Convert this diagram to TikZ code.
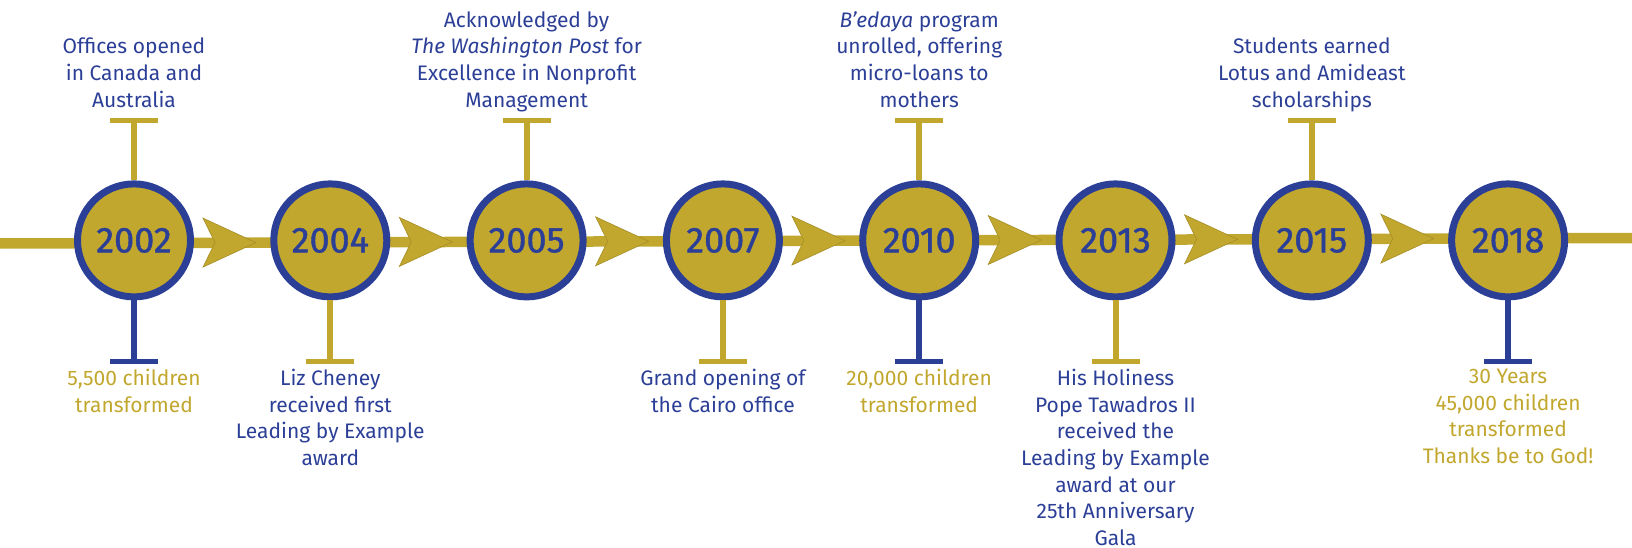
\documentclass[tikz,border=0pt]{standalone}
\usepackage{fontspec}
\setmainfont{Fira Sans}
\newfontfamily\yearfont[FakeBold=1.2]{Fira Sans}
\usetikzlibrary{positioning, calc, arrows.meta}

\definecolor{tlgold}{RGB}{193,167,46}
\definecolor{tlblue}{RGB}{44,63,151}

\tikzset{
  year/.style={circle, draw=tlblue, fill=tlgold, line width=7pt, minimum size=113pt, inner sep=0pt, text=tlblue, font=\yearfont\fontsize{36}{36}\selectfont},
  ev/.style={align=center, inner sep=0pt, font=\fontsize{21}{26.7}\selectfont, execute at begin node=\strut, execute at end node=\strut},
  evb/.style={ev, text=tlblue},
  evg/.style={ev, text=tlgold},
  gstem/.style={draw=tlgold, line width=6pt, -{Bar[width=48pt, line width=5pt]}},
  bstem/.style={draw=tlblue, line width=6pt, -{Bar[width=48pt, line width=5pt]}},
  chev/.style={fill=tlgold, draw=tlgold!85!black, line width=0.6pt},
  tline/.style={draw=tlgold, line width=10.5pt}
}

\begin{document}
\begin{tikzpicture}[x=1pt, y=-1pt]
\useasboundingbox (0,0) rectangle (1632,548);
\coordinate (tl) at (0,243.5);
\coordinate (tr) at (1632,238);
\draw[tline] (tl) -- (tr);

\node (y2002) at (134,240.4) [year] {2002};
\node (y2004) at (330.3,240.4) [year] {2004};
\node (y2005) at (526.6,240.4) [year] {2005};
\node (y2007) at (722.9,240.4) [year] {2007};
\node (y2010) at (919.2,240.4) [year] {2010};
\node (y2013) at (1115.5,240.4) [year] {2013};
\node (y2015) at (1311.8,240.4) [year] {2015};
\node (y2018) at (1508.1,240.4) [year] {2018};

\fill[chev] ($(y2002)+(69,-22.3)$) -- ++(53,24.5) -- ++(-53,24.5) -- ++(12,-24.5) -- cycle;
\fill[chev] ($(y2004)+(69,-23.0)$) -- ++(53,24.5) -- ++(-53,24.5) -- ++(12,-24.5) -- cycle;
\fill[chev] ($(y2005)+(69,-23.6)$) -- ++(53,24.5) -- ++(-53,24.5) -- ++(12,-24.5) -- cycle;
\fill[chev] ($(y2007)+(69,-24.3)$) -- ++(53,24.5) -- ++(-53,24.5) -- ++(12,-24.5) -- cycle;
\fill[chev] ($(y2010)+(69,-24.9)$) -- ++(53,24.5) -- ++(-53,24.5) -- ++(12,-24.5) -- cycle;
\fill[chev] ($(y2013)+(69,-25.6)$) -- ++(53,24.5) -- ++(-53,24.5) -- ++(12,-24.5) -- cycle;
\fill[chev] ($(y2015)+(69,-26.3)$) -- ++(53,24.5) -- ++(-53,24.5) -- ++(12,-24.5) -- cycle;

\node (e2002a) [evb, above=65pt of y2002] {Offices opened\\in Canada and\\Australia};
\node (e2005) [evb, above=65pt of y2005] {Acknowledged by\\\textit{The Washington Post} for\\Excellence in Nonprofit\\Management};
\node (e2010a) [evb, above=65pt of y2010] {\textit{B’edaya} program\\unrolled, offering\\micro-loans to\\mothers};
\node (e2015) [evb, above=65pt of y2015] {Students earned\\Lotus and Amideast\\scholarships};

\node (e2002b) [evg, below=68.4pt of y2002] {5,500 children\\transformed};
\node (e2004) [evb, below=68.4pt of y2004] {Liz Cheney\\received first\\Leading by Example\\award};
\node (e2007) [evb, below=68.4pt of y2007] {Grand opening of\\the Cairo office};
\node (e2010b) [evg, below=68.4pt of y2010] {20,000 children\\transformed};
\node (e2013) [evb, below=68.4pt of y2013] {His Holiness\\Pope Tawadros II\\received the\\Leading by Example\\award at our\\25th Anniversary\\Gala};
\node (e2018) [evg, below=68.4pt of y2018] {30 Years\\45,000 children\\transformed\\Thanks be to God!};

\draw[gstem, shorten >=2.5pt] (y2002) -- (e2002a);
\draw[gstem, shorten >=2.5pt] (y2005) -- (e2005);
\draw[gstem, shorten >=2.5pt] (y2010) -- (e2010a);
\draw[gstem, shorten >=2.5pt] (y2015) -- (e2015);
\draw[bstem, shorten >=4.5pt] (y2002) -- (e2002b);
\draw[gstem, shorten >=4.5pt] (y2004) -- (e2004);
\draw[gstem, shorten >=4.5pt] (y2007) -- (e2007);
\draw[bstem, shorten >=4.5pt] (y2010) -- (e2010b);
\draw[gstem, shorten >=4.5pt] (y2013) -- (e2013);
\draw[bstem, shorten >=4.5pt] (y2018) -- (e2018);
\end{tikzpicture}
\end{document}
